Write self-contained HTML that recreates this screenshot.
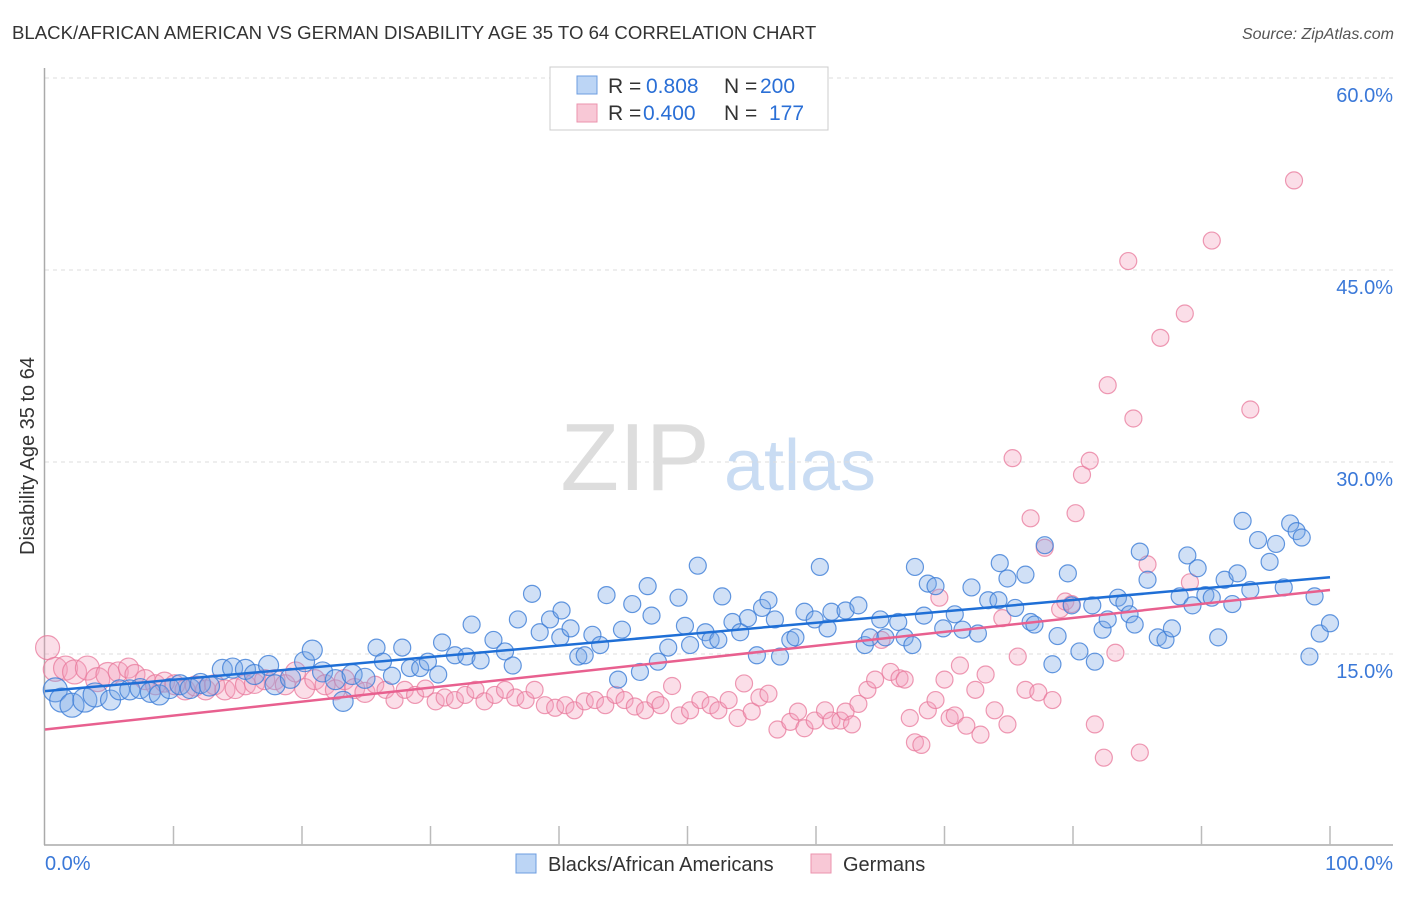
<!DOCTYPE html>
<html><head><meta charset="utf-8"><style>
body{margin:0;background:#fff;font-family:"Liberation Sans",sans-serif;}
svg text{font-family:"Liberation Sans",sans-serif;}
</style></head><body>
<svg id="chart" width="1406" height="892" viewBox="0 0 1406 892" xmlns="http://www.w3.org/2000/svg">
<text x="12" y="39" font-size="18.6" fill="#333">BLACK/AFRICAN AMERICAN VS GERMAN DISABILITY AGE 35 TO 64 CORRELATION CHART</text>
<text x="1394" y="39" font-size="16" fill="#555" text-anchor="end" font-style="italic">Source: ZipAtlas.com</text>
<text transform="translate(34,456) rotate(-90)" font-size="20" fill="#333" text-anchor="middle">Disability Age 35 to 64</text>
<g>
<text x="635" y="490" font-size="96" fill="#ddd" text-anchor="middle" font-family="Liberation Serif">ZIP</text>
<text x="800" y="490" font-size="72" fill="#c9dcf3" text-anchor="middle">atlas</text>
</g>
<g id="grid"></g>
<g id="axes"></g>
<g id="pts"></g>
<g id="lines"></g>
<g>
<rect x="550" y="67" width="278" height="63" fill="#fff" stroke="#ccc"/>
<rect x="577" y="76" width="20" height="18" fill="#bcd5f5" stroke="#6c9de0"/>
<rect x="577" y="104" width="20" height="18" fill="#f8c8d6" stroke="#eb93ae"/>
<text x="608" y="93" font-size="21" fill="#333">R =</text>
<text x="646" y="93" font-size="21" fill="#2a6fd6">0.808</text>
<text x="724" y="93" font-size="21" fill="#333">N =</text>
<text x="760" y="93" font-size="21" fill="#2a6fd6">200</text>
<text x="608" y="120" font-size="21" fill="#333">R =</text>
<text x="643" y="120" font-size="21" fill="#2a6fd6">0.400</text>
<text x="724" y="120" font-size="21" fill="#333">N =</text>
<text x="769" y="120" font-size="21" fill="#2a6fd6">177</text>
</g>
<g>
<rect x="516" y="854" width="20" height="19" fill="#bcd5f5" stroke="#6c9de0"/>
<text x="548" y="871" font-size="20" fill="#333">Blacks/African Americans</text>
<rect x="811" y="854" width="20" height="19" fill="#f8c8d6" stroke="#eb93ae"/>
<text x="843" y="871" font-size="20" fill="#333">Germans</text>
</g>
</svg>
<script>
const yTicks=[15,30,45,60];
const xTickLabels=["0.0%","100.0%"];
const blueX=[0.8,1.3,2.1,3.1,3.9,5.1,5.8,6.6,7.4,8.2,8.9,9.7,10.5,11.3,12.1,12.8,13.8,14.6,15.6,16.3,17.4,17.9,19.1,20.2,20.8,21.6,22.6,23.2,23.9,24.9,25.8,26.3,27.0,27.8,28.4,29.2,29.8,30.6,30.9,31.9,32.8,33.2,33.9,34.9,35.8,36.4,36.8,37.9,38.5,39.3,40.1,40.2,40.9,41.5,42.0,42.6,43.2,43.7,44.6,44.9,45.7,46.3,46.9,47.2,47.7,48.5,49.3,49.8,50.2,50.8,51.4,51.8,52.4,52.7,53.5,54.1,54.7,55.4,55.8,56.3,56.8,57.2,58.0,58.4,59.1,59.9,60.3,60.9,61.2,62.3,63.3,63.8,64.2,65.0,65.4,66.4,66.9,67.5,67.7,68.4,68.7,69.3,69.9,70.8,71.4,72.1,72.6,73.4,74.2,74.3,74.9,75.5,76.3,76.7,77.0,77.8,78.4,78.8,79.6,79.9,80.5,81.5,81.7,82.3,82.7,83.5,84.0,84.4,84.8,85.2,85.8,86.6,87.2,87.7,88.3,88.9,89.3,89.7,90.3,90.8,91.3,91.8,92.4,92.8,93.2,93.8,94.4,95.3,95.8,96.4,96.9,97.4,97.8,98.4,98.8,99.2,100];
const blueY=[12.2,11.4,11.0,11.4,11.8,11.4,12.2,12.2,12.3,12.0,11.8,12.3,12.6,12.3,12.7,12.5,13.8,13.9,13.8,13.4,14.1,12.6,13.1,14.4,15.3,13.6,13.0,11.3,13.4,13.1,15.5,14.4,13.3,15.5,13.9,13.9,14.4,13.4,15.9,14.9,14.8,17.3,14.5,16.1,15.2,14.1,17.7,19.7,16.7,17.7,16.3,18.4,17.0,14.8,14.9,16.5,15.7,19.6,13.0,16.9,18.9,13.6,20.3,18.0,14.4,15.5,19.4,17.2,15.7,21.9,16.7,16.1,16.1,19.5,17.5,16.7,17.8,14.9,18.6,19.2,17.7,14.8,16.1,16.3,18.3,17.7,21.8,17.0,18.3,18.4,18.8,15.7,16.3,17.7,16.3,17.5,16.3,15.7,21.8,18.0,20.5,20.3,17.0,18.1,16.9,20.2,16.6,19.2,19.2,22.1,20.9,18.6,21.2,17.5,17.3,23.5,14.2,16.4,21.3,18.8,15.2,18.8,14.4,16.9,17.7,19.4,19.0,18.1,17.3,23.0,20.8,16.3,16.1,17.0,19.5,22.7,18.8,21.7,19.6,19.4,16.3,20.8,18.9,21.3,25.4,20.0,23.9,22.2,23.6,20.2,25.2,24.6,24.1,14.8,19.5,16.6,17.4];
const pinkX=[0.2,0.8,1.6,2.3,3.3,4.1,4.9,5.7,6.5,7.0,7.8,8.6,9.3,10.1,10.9,11.7,12.5,13.2,14.0,14.8,15.6,16.3,17.1,17.9,18.7,19.5,20.2,21.0,21.8,22.6,23.3,24.1,24.9,25.7,26.5,27.2,28.0,28.8,29.6,30.4,31.1,31.9,32.7,33.5,34.2,35.0,35.8,36.6,37.4,38.1,38.9,39.7,40.5,41.2,42.0,42.8,43.6,44.4,45.1,45.9,46.7,47.5,47.9,48.8,49.4,50.2,51.0,51.8,52.4,53.2,53.9,54.4,55.0,55.6,56.3,57.0,58.0,58.6,59.1,59.9,60.7,61.2,61.9,62.3,62.8,63.3,64.0,64.6,65.1,65.8,66.5,66.9,67.3,67.7,68.2,68.7,69.3,70.0,70.4,70.8,71.2,71.7,72.4,72.8,73.2,73.9,74.5,74.9,75.3,75.7,76.3,76.7,77.3,77.8,78.4,79.0,79.4,79.9,80.2,80.7,81.3,81.7,82.7,83.3,84.3,84.7,85.2,85.8,86.8,88.7,89.1,90.8,93.8,97.2,82.4,69.6];
const pinkY=[15.5,13.8,13.9,13.6,13.9,13.0,13.4,13.6,13.9,13.4,13.0,12.6,12.8,12.6,12.2,12.5,12.2,12.6,12.2,12.3,12.6,12.7,13.0,13.0,12.6,13.6,12.3,13.0,12.6,12.2,13.0,12.3,12.0,12.6,12.2,11.4,12.2,11.8,12.3,11.3,11.6,11.4,11.8,12.2,11.3,11.8,12.2,11.6,11.4,12.2,11.0,10.8,11.0,10.6,11.3,11.4,11.0,11.8,11.4,10.9,10.6,11.4,11.0,12.5,10.2,10.6,11.4,11.0,10.6,11.4,10.0,12.7,10.5,11.6,11.9,9.1,9.7,10.5,9.2,9.8,10.6,9.8,9.8,10.5,9.5,11.1,12.2,13.0,16.1,13.6,13.1,13.0,10.0,8.1,7.9,10.6,11.4,13.0,10.0,10.2,14.1,9.4,12.2,8.7,13.4,10.6,17.8,9.5,30.3,14.8,12.2,25.6,12.0,23.3,11.4,18.5,19.1,18.9,26.0,29.0,30.1,9.5,36.0,15.1,45.7,33.4,7.3,22.0,39.7,41.6,20.6,47.3,34.1,52.0,6.9,19.4];
const blueFit=[12.1,21.0];
const pinkFit=[9.1,20.0];
const NS="http://www.w3.org/2000/svg";
const X0=45,X1=1330,Y0=846,PXY=12.8;
function sx(v){return X0+(X1-X0)*v/100;}
function sy(v){return Y0-v*PXY;}
function mk(tag,attrs,parent){const e=document.createElementNS(NS,tag);for(const k in attrs)e.setAttribute(k,attrs[k]);parent.appendChild(e);return e;}
const grid=document.getElementById('grid'),axes=document.getElementById('axes'),pts=document.getElementById('pts'),lines=document.getElementById('lines');
yTicks.forEach(t=>{
 const l=mk('line',{x1:X0,x2:1393,y1:sy(t),y2:sy(t),stroke:'#ddd','stroke-dasharray':'4,4'},grid);
 
 
 const tx=mk('text',{x:1393,y:sy(t)+24,'font-size':20,fill:'#3a78d8','text-anchor':'end'},grid);
 tx.textContent=t.toFixed(1)+'%';
 
 
});
const ax=mk('line',{x1:44.5,x2:44.5,y1:68,y2:845,stroke:'#aaa','stroke-width':1.5},axes);


const bx=mk('line',{x1:44,x2:1393,y1:845,y2:845,stroke:'#aaa','stroke-width':1.5},axes);


for(let i=1;i<=10;i++){
 const t=mk('line',{x1:sx(i*10),x2:sx(i*10),y1:826,y2:845,stroke:'#bbb','stroke-width':1.5},axes);
 
 
}
const xl0=mk('text',{x:45,y:870,'font-size':20,fill:'#3a78d8'},axes);xl0.textContent=xTickLabels[0];


const xl1=mk('text',{x:1393,y:870,'font-size':20,fill:'#3a78d8','text-anchor':'end'},axes);xl1.textContent=xTickLabels[1];


function rad(x){return x<5?12:x<25?10:8.5;}
function drawSeries(xs,ys,fill,stroke,name){
 xs.forEach((x,i)=>{
  const c=mk('circle',{cx:sx(x),cy:sy(ys[i]),r:rad(x),fill:fill,stroke:stroke,'stroke-width':1.2},pts);
  
  
 });
}
drawSeries(pinkX,pinkY,'rgba(243,160,188,0.35)','rgba(232,120,155,0.75)','german-point');
drawSeries(blueX,blueY,'rgba(120,165,230,0.35)','rgba(60,125,215,0.8)','black-point');
const pl=mk('line',{x1:sx(0),y1:sy(pinkFit[0]),x2:sx(100),y2:sy(pinkFit[1]),stroke:'#e8608f','stroke-width':2.5},lines);


const bl=mk('line',{x1:sx(0),y1:sy(blueFit[0]),x2:sx(100),y2:sy(blueFit[1]),stroke:'#1f6fd6','stroke-width':2.5},lines);


</script>
</body></html>
